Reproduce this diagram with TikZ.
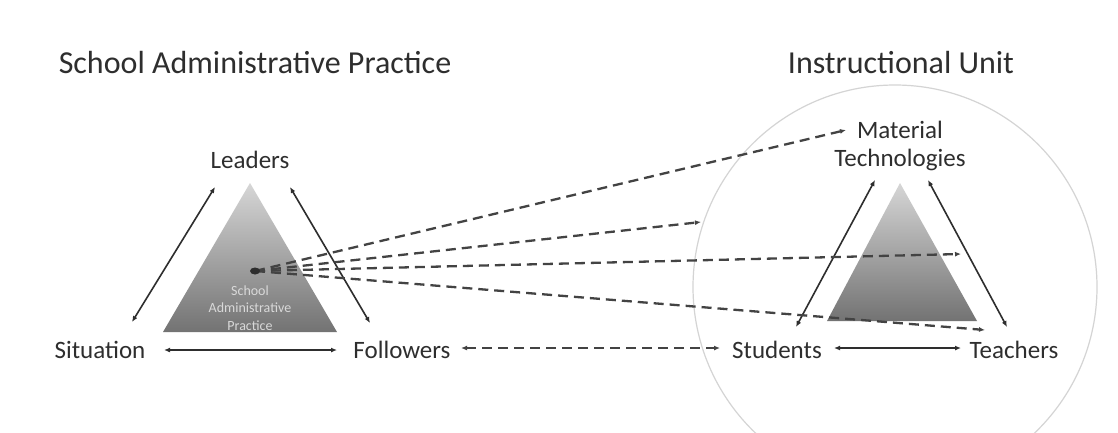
\documentclass[tikz,border=0pt]{standalone}
\usepackage{fontspec}
\setmainfont{Carlito}
\usetikzlibrary{arrows.meta}
\definecolor{ink}{HTML}{2E2E2E}
\definecolor{ring}{HTML}{D4D4D4}
\tikzset{
  lbl/.style={text=ink, font=\fontsize{25}{28}\selectfont, inner sep=0pt},
  ttl/.style={text=ink, font=\fontsize{32}{36}\selectfont, inner sep=0pt},
  link/.style={draw=ink, line width=1.6pt, {Latex[length=6pt,width=5pt]}-{Latex[length=6pt,width=5pt]}},
  dlink/.style={draw=ink!90, line width=2.3pt, dash pattern=on 10pt off 6pt},
  pyr/.style={top color=black!16, bottom color=black!55, draw=none},
}
\begin{document}
\begin{tikzpicture}[x=1pt,y=-1pt]
\useasboundingbox (0,0) rectangle (1118,432);
\fill[white] (0,0) rectangle (1118,432);

% titles
\node[ttl] (t1) at (255,63) {School Administrative Practice};
\node[ttl] (t2) at (901,63) {Instructional Unit};

% instructional unit circle
\draw[ring, line width=1.2pt] (895,287) circle (202);

% left pyramid
\shade[pyr] (250,183) -- (337,332) -- (163,332) -- cycle;
\node[text=white!85!black, font=\fontsize{14}{17.5}\selectfont, align=center, inner sep=0pt] (sap) at (250,308)
  {School\\Administrative\\Practice};

% right pyramid
\shade[pyr] (900,183) -- (977,321) -- (827,321) -- cycle;

% labels
\node[lbl] (lead) at (250,160) {Leaders};
\node[lbl] (sit)  at (100,350) {Situation};
\node[lbl] (fol)  at (402,350) {Followers};
\node[lbl, align=center] (mat) at (900,146) {Material\\Technologies};
\node[lbl] (stu)  at (777,350) {Students};
\node[lbl] (tea)  at (1014,350) {Teachers};

% arrow end points
\coordinate (sitA) at (132,322);
\coordinate (leadA) at (215,187);
\coordinate (leadB) at (290,187);
\coordinate (folA) at (370,323);
\coordinate (sitB) at (164,350);
\coordinate (folB) at (337,350);
\coordinate (folC) at (461,348);
\coordinate (stuC) at (720,348);
\coordinate (stuA) at (796,327);
\coordinate (matA) at (875,180);
\coordinate (matB) at (928,180);
\coordinate (teaA) at (1007,327);
\coordinate (stuB) at (834,348);
\coordinate (teaB) at (961,348);
\coordinate (src) at (255,271);
\coordinate (dM) at (846,130);
\coordinate (dU) at (701,222);
\coordinate (dP) at (961,254);
\coordinate (dT) at (985,330);

% solid relations
\draw[link] (sitA) -- (leadA);
\draw[link] (leadB) -- (folA);
\draw[link] (sitB) -- (folB);
\draw[link] (stuA) -- (matA);
\draw[link] (matB) -- (teaA);
\draw[link] (stuB) -- (teaB);

% dashed relations
\draw[dlink, {Latex[length=6pt,width=5pt]}-{Latex[length=6pt,width=5pt]}] (folC) -- (stuC);
\draw[dlink, -{Latex[length=6pt,width=5pt]}] (src) -- (dM);
\draw[dlink, -{Latex[length=6pt,width=5pt]}] (src) -- (dU);
\draw[dlink, -{Latex[length=6pt,width=5pt]}] (src) -- (dP);
\draw[dlink, -{Latex[length=6pt,width=5pt]}] (src) -- (dT);
\fill[ink] (src) ellipse (5 and 3.5);
\end{tikzpicture}
\end{document}
